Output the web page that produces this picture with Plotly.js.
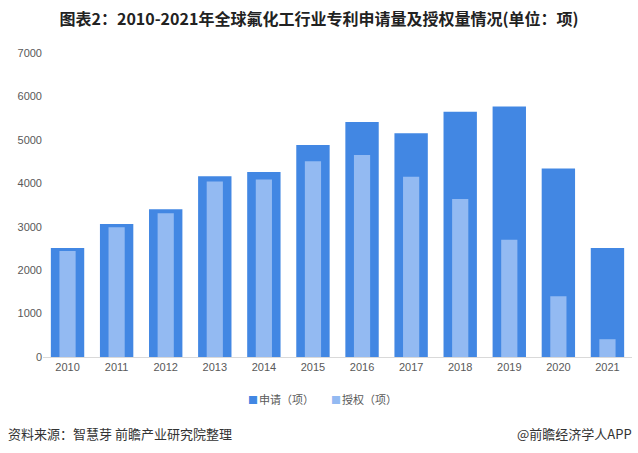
<!DOCTYPE html>
<html>
<head>
<meta charset="utf-8">
<script src="https://cdn.plot.ly/plotly-3.0.1.min.js"></script>
<style>
  body { margin: 0; background: #fff; }
  #chart { width: 638px; height: 453px; }
</style>
</head>
<body>
<div id="chart"></div>
<script>
// 年份
var years = ['2010', '2011', '2012', '2013', '2014', '2015', '2016', '2017', '2018', '2019', '2020', '2021'];
// 申请量（项）
var applied = [2510, 3060, 3400, 4160, 4260, 4880, 5410, 5150, 5650, 5770, 4340, 2510];
// 授权量（项）
var granted = [2440, 2990, 3310, 4040, 4090, 4510, 4650, 4150, 3640, 2700, 1400, 410];

var seriesNames = ['申请（项）', '授权（项）'];
var seriesColors = ['#4287e3', '#93baf2'];

var yTicks = [0, 1000, 2000, 3000, 4000, 5000, 6000, 7000];

var txtFont = 'Liberation Sans, Noto Sans CJK SC, sans-serif';
var cjkFont = 'Noto Sans CJK SC, sans-serif';

var data = [
  {
    type: 'bar',
    name: seriesNames[0],
    x: years,
    y: applied,
    width: 0.68,
    marker: { color: seriesColors[0] },
    hoverinfo: 'x+y'
  },
  {
    type: 'bar',
    name: seriesNames[1],
    x: years,
    y: granted,
    width: 0.33,
    marker: { color: seriesColors[1] },
    hoverinfo: 'x+y'
  }
];

// legend drawn as text so the key sits tight against its label, like the original
var legendX = [0.3445, 0.4855];
var legendNotes = seriesNames.map(function (n, i) {
  return {
    text: '<span style="color:' + seriesColors[i] + ';font-size:10px">■</span><span style="font-size:4px"> </span>' + n,
    xref: 'paper', yref: 'paper',
    x: legendX[i], y: -0.138,
    xanchor: 'left', yanchor: 'middle',
    showarrow: false,
    font: { family: cjkFont, size: 11, color: '#595959' }
  };
});

var layout = {
  width: 638,
  height: 453,
  margin: { l: 43, r: 6, t: 53, b: 96 },
  paper_bgcolor: '#ffffff',
  plot_bgcolor: '#ffffff',
  barmode: 'overlay',
  title: {
    text: '<b>图表2：2010-2021年全球氟化工行业专利申请量及授权量情况(单位：项)</b>',
    font: { family: cjkFont, size: 16, color: '#222222' },
    x: 0.5,
    xanchor: 'center',
    y: 0.958,
    yanchor: 'middle'
  },
  xaxis: {
    type: 'category',
    showgrid: false,
    showline: true,
    linecolor: '#d9d9d9',
    linewidth: 1,
    ticks: '',
    tickfont: { family: txtFont, size: 11, color: '#595959' },
    zeroline: false
  },
  yaxis: {
    range: [0, 7000],
    tickvals: yTicks,
    ticktext: yTicks.map(String),
    showgrid: false,
    showline: false,
    zeroline: false,
    ticks: '',
    tickfont: { family: txtFont, size: 11, color: '#595959' }
  },
  showlegend: false,
  annotations: legendNotes.concat([
    {
      text: '资料来源：智慧芽 前瞻产业研究院整理',
      xref: 'paper', yref: 'paper',
      x: -0.063, y: -0.25,
      xanchor: 'left', yanchor: 'middle',
      showarrow: false,
      font: { family: cjkFont, size: 13, color: '#333333' }
    },
    {
      text: '@前瞻经济学人APP',
      xref: 'paper', yref: 'paper',
      x: 1.004, y: -0.25,
      xanchor: 'right', yanchor: 'middle',
      showarrow: false,
      font: { family: cjkFont, size: 13, color: '#333333' }
    }
  ])
};

Plotly.newPlot('chart', data, layout, { displayModeBar: false, responsive: false });
</script>
</body>
</html>
